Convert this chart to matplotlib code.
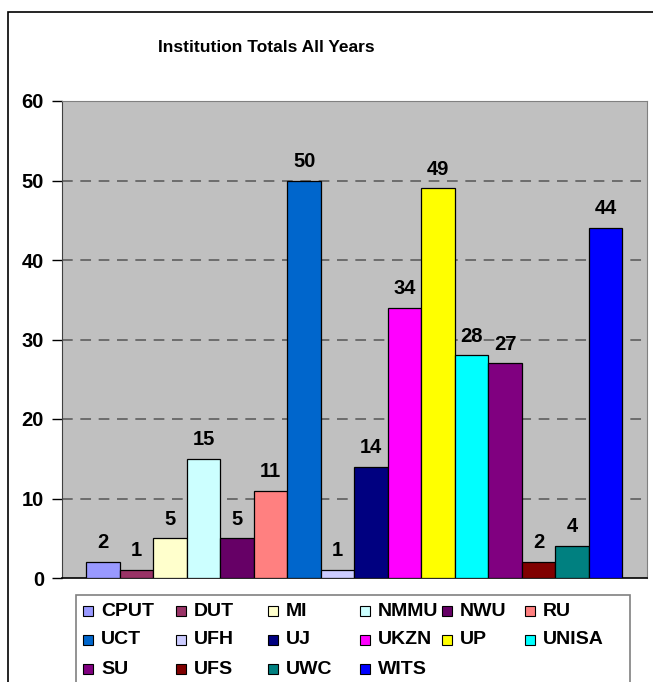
import matplotlib

matplotlib.use("Agg")

import matplotlib.pyplot as plt
from matplotlib.patches import Rectangle

plt.rcParams["font.family"] = ["Liberation Sans", "DejaVu Sans"]
plt.rcParams["font.weight"] = "bold"

institutions = ["CPUT", "DUT", "MI", "NMMU", "NWU", "RU", "UCT", "UFH",
                "UJ", "UKZN", "UP", "UNISA", "SU", "UFS", "UWC", "WITS"]
totals = [2, 1, 5, 15, 5, 11, 50, 1, 14, 34, 49, 28, 27, 2, 4, 44]
colors = ["#9999FF", "#993366", "#FFFFCC", "#CCFFFF", "#660066", "#FF8080",
          "#0066CC", "#CCCCFF", "#000080", "#FF00FF", "#FFFF00", "#00FFFF",
          "#800080", "#800000", "#008080", "#0000FF"]
y_ticks = [0, 10, 20, 30, 40, 50, 60]

W, H = 653, 682
fig = plt.figure(figsize=(W / 100, H / 100), dpi=100)

# outer chart border (right/bottom edges fall outside the image)
fig.patches.append(Rectangle((8 / W, -0.1), 1.2, 1 - 12 / H + 0.1, transform=fig.transFigure,
                             fill=False, edgecolor="black", linewidth=1.2))

ax = fig.add_axes([62 / W, 1 - 578 / H, (647 - 62) / W, (578 - 101) / H])
ax.set_facecolor("#C0C0C0")
x = list(range(len(totals)))
bars = ax.bar(x, totals, width=1.0, color=colors, edgecolor="black", linewidth=0.9, zorder=3)
ax.set_xlim(-1.23, len(totals) - 1 + 1.24)
ax.set_ylim(0, 60)
ax.set_yticks(y_ticks)
ax.set_xticks([])
ax.tick_params(axis="y", labelsize=14.5, length=7, width=1, pad=6, colors="black")
for lab in ax.get_yticklabels():
    lab.set_fontweight("bold")
for val in y_ticks[1:-1]:
    ax.axhline(val, color="#555555", linewidth=1.1, linestyle=(0, (7, 5)), zorder=1)

ax.spines["left"].set_color("#404040")
ax.spines["top"].set_color("#808080")
ax.spines["right"].set_color("#808080")
ax.spines["bottom"].set_color("black")
ax.spines["bottom"].set_linewidth(1.2)

for rect, val in zip(bars, totals):
    ax.annotate(str(val), (rect.get_x() + rect.get_width() / 2, val), xytext=(0, 7),
                textcoords="offset points", ha="center", va="bottom",
                fontsize=14.5, fontweight="bold")

fig.text(266 / W, 1 - 47 / H, "Institution Totals All Years", ha="center", va="center",
         fontsize=12.5, fontweight="bold")

# legend box, laid out like the Excel legend
fig.patches.append(Rectangle((76 / W, -0.1), (630 - 76) / W, 1 - 595 / H + 0.1,
                             transform=fig.transFigure, facecolor="white",
                             edgecolor="#808080", linewidth=1.2))
col_x = [83, 176, 268, 360, 442, 525]
row_y = [611, 640, 669]
for i, (name, c) in enumerate(zip(institutions, colors)):
    px = col_x[i % 6]
    py = row_y[i // 6]
    fig.patches.append(Rectangle((px / W, 1 - (py + 5) / H), 10 / W, 10 / H,
                                 transform=fig.transFigure, facecolor=c,
                                 edgecolor="black", linewidth=0.8))
    fig.text((px + 18) / W, 1 - py / H, name, ha="left", va="center",
             fontsize=14, fontweight="bold")

fig.savefig("out.png", dpi=100)
plt.close(fig)
